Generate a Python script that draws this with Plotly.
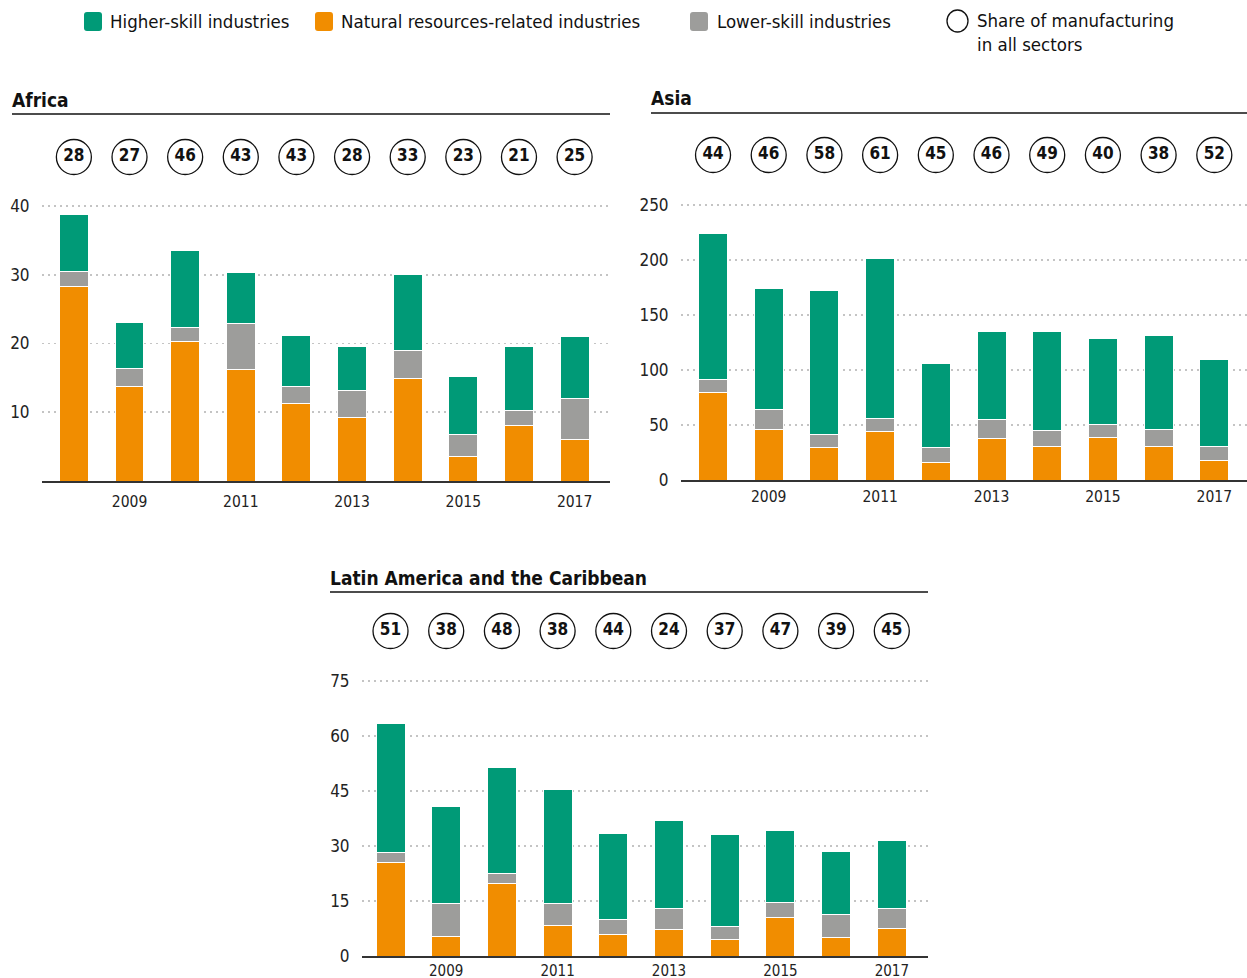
import plotly.graph_objects as go

W, H = 1247, 978
FONT = "DejaVu Sans Condensed, Liberation Sans Narrow, Arial Narrow, sans-serif"

years = [2008, 2009, 2010, 2011, 2012, 2013, 2014, 2015, 2016, 2017]
tick_years = [2009, 2011, 2013, 2015, 2017]

africa_natural = [28.3, 13.7, 20.3, 16.2, 11.2, 9.3, 14.9, 3.6, 8.1, 6.0]
africa_lower = [2.2, 2.6, 2.0, 6.7, 2.5, 3.8, 4.1, 3.1, 2.1, 6.0]
africa_higher = [8.3, 6.8, 11.2, 7.4, 7.5, 6.4, 11.0, 8.5, 9.3, 9.0]
africa_share = [28, 27, 46, 43, 43, 28, 33, 23, 21, 25]
africa_ticks = [10, 20, 30, 40]

asia_natural = [79.7, 45.5, 29.4, 44.2, 16.1, 37.9, 30.0, 38.2, 30.0, 17.9]
asia_lower = [12.1, 19.0, 12.4, 11.9, 13.0, 16.9, 14.8, 12.4, 15.8, 12.1]
asia_higher = [132.7, 109.7, 130.9, 144.8, 77.0, 80.4, 90.4, 78.2, 85.4, 79.1]
asia_share = [44, 46, 58, 61, 45, 46, 49, 40, 38, 52]
asia_ticks = [0, 50, 100, 150, 200, 250]

latam_natural = [25.5, 5.3, 19.8, 8.2, 5.8, 7.2, 4.4, 10.5, 5.0, 7.6]
latam_lower = [2.7, 9.0, 2.6, 6.1, 4.2, 5.8, 3.7, 4.0, 6.4, 5.4]
latam_higher = [35.3, 26.4, 29.0, 31.2, 23.4, 23.9, 25.0, 19.6, 17.1, 18.5]
latam_share = [51, 38, 48, 38, 44, 24, 37, 47, 39, 45]
latam_ticks = [0, 15, 30, 45, 60, 75]

GREEN = "#009a77"
ORANGE = "#f18d00"
GRAY = "#9d9d9b"

legend_labels = ["Higher-skill industries", "Natural resources-related industries",
                 "Lower-skill industries", "Share of manufacturing<br>in all sectors"]


def fx(p):
    return p / W


def fy(p):
    return 1 - p / H


panels = [
    dict(name="Africa", nat=africa_natural, low=africa_lower, high=africa_higher, share=africa_share,
         ticks=africa_ticks, px_left=42, px_right=610, xr=[2007.427, 2017.636],
         px_bottom=481, px_top=200, yr=[0, 40.87], circ=157, xticklen=6, xfs=15.5,
         title_x=12, title_y=100, line_y=114, line_x1=610),
    dict(name="Asia", nat=asia_natural, low=asia_lower, high=asia_higher, share=asia_share,
         ticks=asia_ticks, px_left=681, px_right=1247, xr=[2007.425, 2017.587],
         px_bottom=480, px_top=200, yr=[0, 254.5], circ=155, xticklen=2, xfs=15.5,
         title_x=651, title_y=98, line_y=113, line_x1=1247),
    dict(name="Latin America and the Caribbean", nat=latam_natural, low=latam_lower, high=latam_higher,
         share=latam_share, ticks=latam_ticks, px_left=362, px_right=928, xr=[2007.488, 2017.65],
         px_bottom=956, px_top=675, yr=[0, 76.6], circ=631, xticklen=0, xfs=15,
         title_x=330, title_y=578, line_y=592, line_x1=928),
]

fig = go.Figure()
layout = {}
shapes = []
annotations = []

for i, p in enumerate(panels):
    n = i + 1
    xa = "x" if n == 1 else f"x{n}"
    ya = "y" if n == 1 else f"y{n}"
    yc = f"y{n + 3}"
    xkey = "xaxis" if n == 1 else f"xaxis{n}"
    ykey = "yaxis" if n == 1 else f"yaxis{n}"
    yckey = f"yaxis{n + 3}"

    for vals, col in [(p["nat"], ORANGE), (p["low"], GRAY), (p["high"], GREEN)]:
        fig.add_trace(go.Bar(x=years, y=vals, xaxis=xa, yaxis=ya, width=0.52,
                             marker=dict(color=col, line=dict(color="white", width=1)),
                             showlegend=False, hoverinfo="skip"))
    fig.add_trace(go.Scatter(x=years, y=[0.5] * len(years), xaxis=xa, yaxis=yc,
                             mode="markers+text", text=[str(v) for v in p["share"]],
                             texttemplate="<b>%{text}</b>", textposition="middle center",
                             textfont=dict(family=FONT, size=17, color="#111"),
                             marker=dict(symbol="circle", size=35, color="white",
                                         line=dict(color="#111", width=1.3)),
                             showlegend=False, cliponaxis=False, hoverinfo="skip"))

    xa_dict = dict(domain=[fx(p["px_left"]), fx(p["px_right"])], range=p["xr"],
                   anchor=ya, tickvals=tick_years, ticktext=[str(t) for t in tick_years],
                   showgrid=False, zeroline=False, showline=True, linecolor="#333",
                   linewidth=1.5, automargin=False, fixedrange=True,
                   tickfont=dict(family=FONT, size=p["xfs"], color="#222"))
    if p["xticklen"] > 0:
        xa_dict.update(ticks="outside", ticklen=p["xticklen"], tickcolor="rgba(0,0,0,0)")
    else:
        xa_dict.update(ticks="")
    layout[xkey] = xa_dict
    layout[ykey] = dict(domain=[fy(p["px_bottom"]), fy(p["px_top"])], range=p["yr"],
                        anchor=xa, tickvals=p["ticks"], showgrid=True, gridcolor="#c4c4c4",
                        griddash="2px,4px", gridwidth=1.8, zeroline=False, showline=False,
                        ticks="outside", ticklen=8, tickcolor="rgba(0,0,0,0)",
                        automargin=False, fixedrange=True,
                        tickfont=dict(family=FONT, size=17, color="#222"))
    layout[yckey] = dict(domain=[fy(p["circ"] + 20), fy(p["circ"] - 20)], range=[0, 1],
                         anchor=xa, visible=False, automargin=False, fixedrange=True)

    annotations.append(dict(text=f"<b>{p['name']}</b>", xref="paper", yref="paper",
                            x=fx(p["title_x"] - 2), y=fy(p["title_y"]), xanchor="left",
                            yanchor="middle", showarrow=False,
                            font=dict(family=FONT, size=19, color="#111")))
    shapes.append(dict(type="line", xref="paper", yref="paper",
                       x0=fx(p["title_x"]), x1=fx(p["line_x1"]),
                       y0=fy(p["line_y"]), y1=fy(p["line_y"]),
                       line=dict(color="#111", width=1.5)))


def rrect(x0, y0, x1, y1, r):
    pts = [
        ("M", [(x0 + r, y0)]), ("L", [(x1 - r, y0)]), ("Q", [(x1, y0), (x1, y0 + r)]),
        ("L", [(x1, y1 - r)]), ("Q", [(x1, y1), (x1 - r, y1)]), ("L", [(x0 + r, y1)]),
        ("Q", [(x0, y1), (x0, y1 - r)]), ("L", [(x0, y0 + r)]), ("Q", [(x0, y0), (x0 + r, y0)]),
    ]
    s = ""
    for cmd, cs in pts:
        s += cmd + " " + " ".join(f"{fx(a):.5f},{fy(b):.5f}" for a, b in cs) + " "
    return s + "Z"


legend_items = [(84, GREEN, legend_labels[0], 110), (315, ORANGE, legend_labels[1], 341),
                (690, GRAY, legend_labels[2], 717)]
for sx, col, lab, tx in legend_items:
    shapes.append(dict(type="path", xref="paper", yref="paper",
                       path=rrect(sx, 12, sx + 18, 31, 3), fillcolor=col, line=dict(width=0)))
    annotations.append(dict(text=lab, xref="paper", yref="paper", x=fx(tx - 2), y=fy(21.5),
                            xanchor="left", yanchor="middle", showarrow=False,
                            font=dict(family=FONT, size=18.5, color="#111")))
shapes.append(dict(type="circle", xref="paper", yref="paper", x0=fx(947), x1=fx(968),
                   y0=fy(32), y1=fy(10), line=dict(color="#111", width=1.3), fillcolor="white"))
annotations.append(dict(text=legend_labels[3], xref="paper", yref="paper", x=fx(975), y=fy(8.5),
                        xanchor="left", yanchor="top", align="left", showarrow=False,
                        font=dict(family=FONT, size=18.5, color="#111")))

fig.update_layout(**layout)
fig.update_layout(barmode="stack", width=W, height=H, margin=dict(l=0, r=0, t=0, b=0, autoexpand=False),
                  plot_bgcolor="white", paper_bgcolor="white", showlegend=False,
                  shapes=shapes, annotations=annotations, bargap=0, hovermode=False,
                  font=dict(family=FONT))

fig.write_html("out.html", config={"displayModeBar": False, "staticPlot": True},
               post_script="document.body.style.margin='0';document.body.style.overflow='hidden';")
